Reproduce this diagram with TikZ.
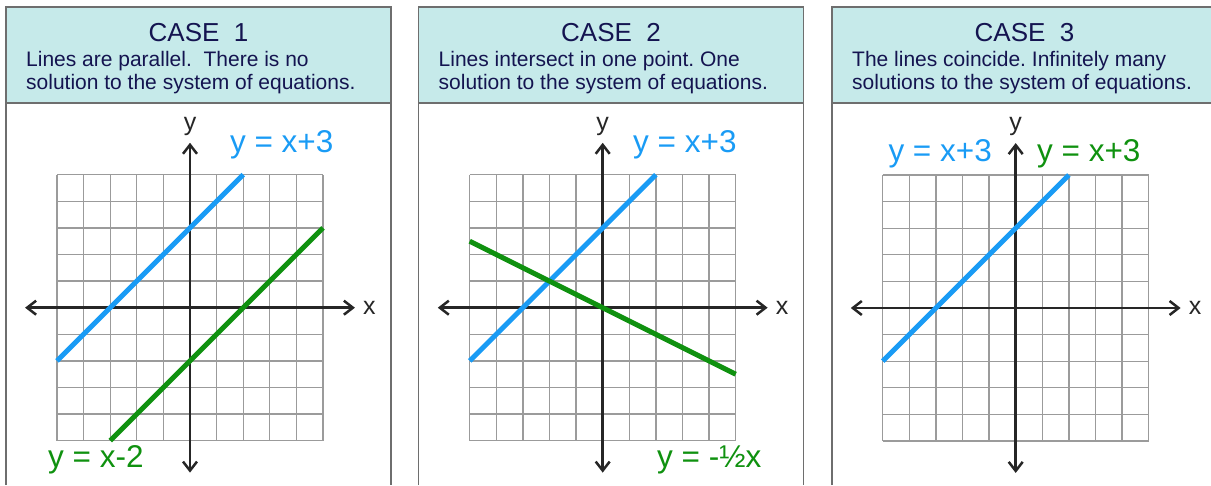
\documentclass[tikz,border=0pt]{standalone}
\usepackage{fontspec}
\setmainfont{Liberation Sans}
\usepackage{xcolor}
\usetikzlibrary{positioning, arrows.meta}
\definecolor{cHead}{RGB}{198,234,234}
\definecolor{cText}{RGB}{20,20,80}
\definecolor{cBlue}{RGB}{25,155,245}
\definecolor{cGreen}{RGB}{15,145,15}
\definecolor{cGrid}{RGB}{155,155,155}
\definecolor{cBorder}{RGB}{110,110,110}

\begin{document}
\frenchspacing
\begin{tikzpicture}[x=1pt, y=1pt,
    head/.style={draw=cBorder, line width=1.5pt, fill=cHead, minimum width=385pt, minimum height=96pt, inner sep=0pt},
    title/.style={text=cText, font=\fontsize{26}{30}\selectfont, anchor=base},
    note/.style={text=cText, font=\fontsize{21}{23.3}\selectfont, align=left, anchor=base west, inner sep=0pt},
    frame/.style={draw=cBorder, line width=1.5pt},
    gridline/.style={draw=cGrid, line width=1.3pt, step=1},
    axis/.style={line width=2.5pt, draw=black!85, {Straight Barb[length=9pt,width=14pt]}-{Straight Barb[length=9pt,width=14pt]}},
    axlabel/.style={text=black!85, font=\fontsize{25}{30}\selectfont, inner sep=1pt},
    eqline/.style={line width=5pt},
    eqlabel/.style={font=\fontsize{31.5}{36}\selectfont, anchor=base west, inner sep=0pt}]

    \useasboundingbox (0,0) rectangle (1211,485);

    % Panel Frames
    \draw[frame] (6,0) -- (6,382) (391,382) -- (391,0);
    \draw[frame] (418.5,0) -- (418.5,382) (803.5,382) -- (803.5,0);
    \draw[frame] (832,0) -- (832,382) (1217,382) -- (1217,0);
    \node[head] (Head1) at (198.5,430)  {};
    \node[head] (Head2) at (611,430)    {};
    \node[head] (Head3) at (1024.5,430) {};

    % Header Texts
    \node[title] (Case1) at (198.5,443)  {CASE\ \ 1};
    \node[title] (Case2) at (611,443)    {CASE\ \ 2};
    \node[title] (Case3) at (1024.5,443) {CASE\ \ 3};
    \node[note] (Note1a) at (26,418.3)    {Lines are parallel.\ \ There is no};
    \node[note] (Note1b) at (26,395)      {solution to the system of equations.};
    \node[note] (Note2a) at (438.5,418.3) {Lines intersect in one point. One};
    \node[note] (Note2b) at (438.5,395)   {solution to the system of equations.};
    \node[note] (Note3a) at (852,418.3)   {The lines coincide. Infinitely many};
    \node[note] (Note3b) at (852,395)     {solutions to the system of equations.};

    % Case 1 Graph
    \begin{scope}[shift={(190,177.3)}, x=26.6pt, y=26.6pt]
        \draw[gridline] (-5,-5) grid (5,5);
        \coordinate (xl1) at (-6.2,0);  \coordinate (xr1) at (6.2,0);
        \coordinate (yb1) at (0,-6.2);  \coordinate (yt1) at (0,6.2);
        \draw[axis] (xl1) -- (xr1);
        \draw[axis] (yb1) -- (yt1);
        \node[axlabel, right=7pt of xr1] (xlab1) {x};
        \node[axlabel, above=6pt of yt1] (ylab1) {y};
        \coordinate (B1s) at (-5,-2);  \coordinate (B1e) at (2,5);
        \coordinate (G1s) at (-3,-5);  \coordinate (G1e) at (5,3);
        \draw[eqline, cBlue]  (B1s) -- (B1e);
        \draw[eqline, cGreen] (G1s) -- (G1e);
        \node[eqlabel, text=cBlue]  (bl1) at (1.5,5.82)    {y = x+3};
        \node[eqlabel, text=cGreen] (gl1) at (-5.34,-6.02) {y = x-2};
    \end{scope}

    % Case 2 Graph
    \begin{scope}[shift={(602.7,177.3)}, x=26.6pt, y=26.6pt]
        \draw[gridline] (-5,-5) grid (5,5);
        \coordinate (xl2) at (-6.2,0);  \coordinate (xr2) at (6.2,0);
        \coordinate (yb2) at (0,-6.2);  \coordinate (yt2) at (0,6.2);
        \draw[axis] (xl2) -- (xr2);
        \draw[axis] (yb2) -- (yt2);
        \node[axlabel, right=7pt of xr2] (xlab2) {x};
        \node[axlabel, above=6pt of yt2] (ylab2) {y};
        \coordinate (B2s) at (-5,-2);   \coordinate (B2e) at (2,5);
        \coordinate (G2s) at (-5,2.5);  \coordinate (G2e) at (5,-2.5);
        \draw[eqline, cBlue]  (B2s) -- (B2e);
        \draw[eqline, cGreen] (G2s) -- (G2e);
        \node[eqlabel, text=cBlue]  (bl2) at (1.14,5.82) {y = x+3};
        \node[eqlabel, text=cGreen] (gl2) at (2.04,-6.0) {y = -½x};
    \end{scope}

    % Case 3 Graph
    \begin{scope}[shift={(1015.7,177)}, x=26.6pt, y=26.6pt]
        \draw[gridline] (-5,-5) grid (5,5);
        \coordinate (xl3) at (-6.2,0);  \coordinate (xr3) at (6.2,0);
        \coordinate (yb3) at (0,-6.2);  \coordinate (yt3) at (0,6.2);
        \draw[axis] (xl3) -- (xr3);
        \draw[axis] (yb3) -- (yt3);
        \node[axlabel, right=7pt of xr3] (xlab3) {x};
        \node[axlabel, above=6pt of yt3] (ylab3) {y};
        \coordinate (B3s) at (-5,-2);  \coordinate (B3e) at (2,5);
        \draw[eqline, cBlue] (B3s) -- (B3e);
        \node[eqlabel, text=cBlue, anchor=base east] (bl3) at (-0.89,5.5) {y = x+3};
        \node[eqlabel, text=cGreen] (gl3) at (0.8,5.5) {y = x+3};
    \end{scope}
\end{tikzpicture}
\end{document}
